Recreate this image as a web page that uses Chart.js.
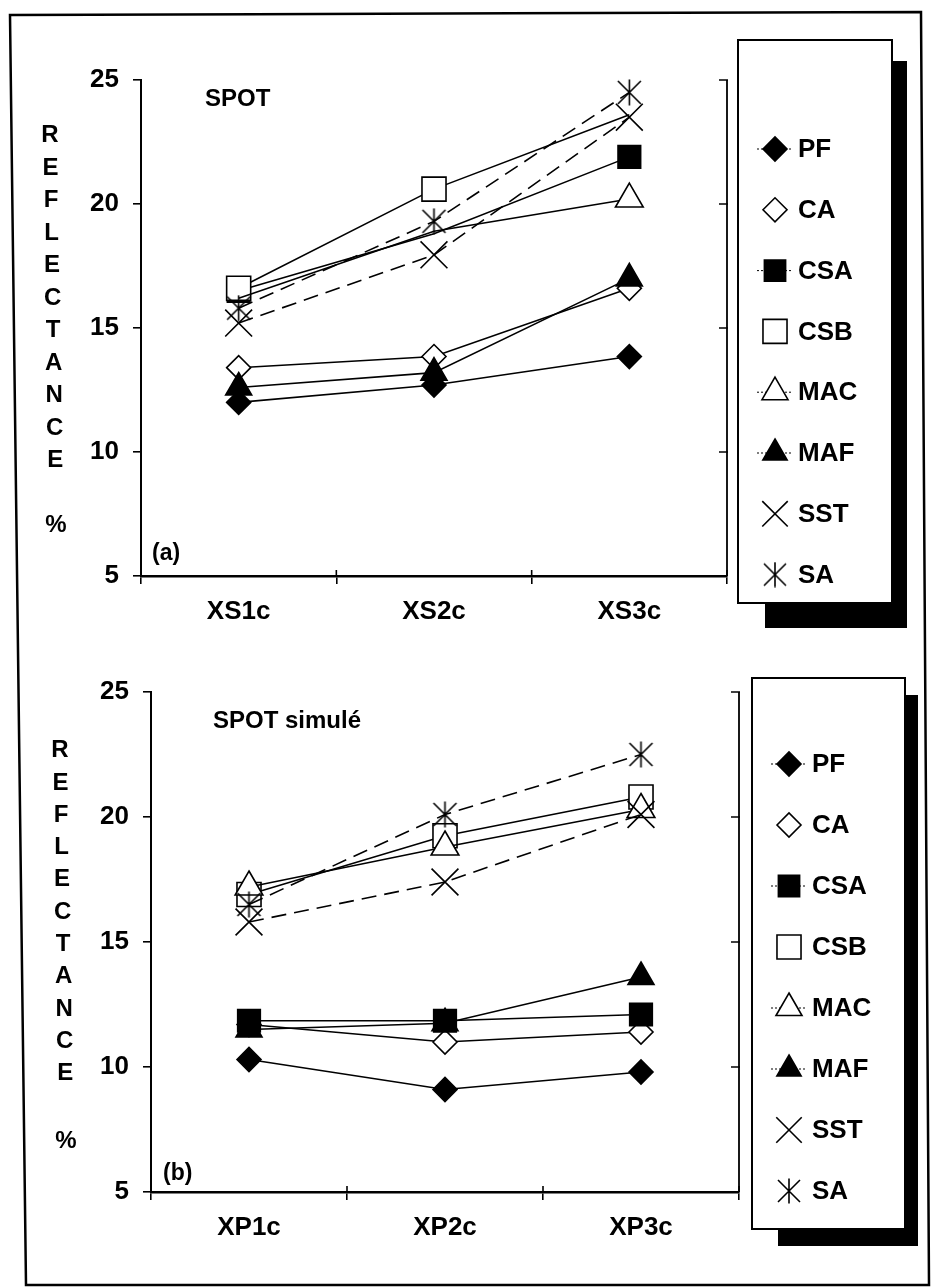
<!DOCTYPE html>
<html><head><meta charset="utf-8">
<script src="https://cdn.jsdelivr.net/npm/chart.js@4/dist/chart.umd.min.js"></script>
<style>
html,body{margin:0;padding:0;background:#fff;}
body{width:931px;height:1287px;overflow:hidden;position:relative;font-family:"Liberation Sans",Arial,sans-serif;font-weight:bold;color:#000;}
canvas{position:absolute;left:0;}
.t{position:absolute;line-height:1;white-space:nowrap;}
.v{position:absolute;line-height:1;width:30px;text-align:center;}
svg{position:absolute;left:0;top:0;}
</style></head>
<body>
<svg width="931" height="1287"><polygon points="10,15 921,12 929,1285 26,1285" fill="none" stroke="#000" stroke-width="2.5"/></svg>
<canvas id="cA" width="931" height="640" style="top:0px"></canvas>
<canvas id="cB" width="931" height="647" style="top:640px"></canvas>
<div id="txt"></div>
<script>
// ---------- data ----------
const seriesLabels = ['PF','CA','CSA','CSB','MAC','MAF','SST','SA'];
const categoriesA = ['XS1c','XS2c','XS3c'];
const categoriesB = ['XP1c','XP2c','XP3c'];
const yTickValues = [5,10,15,20,25];

// panel (a) SPOT
const PF_a  = [12.0, 12.7, 13.85];
const CA_a  = [13.4, 13.85, 16.6];
const CSA_a = [16.5, 18.8, 21.9];
const CSB_a = [16.6, 20.6, 23.6];
const MAC_a = [16.2, 18.9, 20.2];
const MAF_a = [12.6, 13.2, 17.0];
const SST_a = [15.2, 17.95, 23.5];
const SA_a  = [15.8, 19.3, 24.5];

// panel (b) SPOT simulé
const PF_b  = [10.3, 9.1, 9.8];
const CA_b  = [11.7, 11.0, 11.4];
const CSA_b = [11.85, 11.85, 12.1];
const CSB_b = [16.9, 19.25, 20.8];
const MAC_b = [17.2, 18.8, 20.3];
const MAF_b = [11.5, 11.75, 13.6];
const SST_b = [15.8, 17.4, 20.1];
const SA_b  = [16.5, 20.1, 22.5];

// ---------- styles ----------
function asteriskCanvas(size){
  const c=document.createElement('canvas'); c.width=size; c.height=size;
  const g=c.getContext('2d'); g.strokeStyle='#000'; g.lineWidth=1.6; g.lineCap='butt';
  const m=2, s=size;
  g.beginPath();
  g.moveTo(m,m); g.lineTo(s-m,s-m);
  g.moveTo(s-m,m); g.lineTo(m,s-m);
  g.moveTo(s/2,0.5); g.lineTo(s/2,s-0.5);
  g.stroke(); return c;
}
const SA_IMG = asteriskCanvas(27);
const SA_IMG_L = asteriskCanvas(26);
const styles = [
  {ps:'rectRot', r:12, bg:'#000', dash:false, lr:12, stub:true},
  {ps:'rectRot', r:12, bg:'#fff', dash:false, lr:12, stub:false},
  {ps:'rect', r:16, bg:'#000', dash:false, lr:15, stub:true},
  {ps:'rect', r:17, bg:'#fff', dash:false, lr:17, stub:false},
  {ps:'triangle', r:16, bg:'#fff', dash:false, lr:15, stub:true},
  {ps:'triangle', r:15, bg:'#000', dash:false, lr:14, stub:true},
  {ps:'crossRot', r:19, bg:'#fff', dash:true, lr:18, stub:false},
  {ps:SA_IMG, r:13, bg:'#fff', dash:true, lr:13, stub:false, img:SA_IMG_L}
];
// markers that are not visible in the original figure (panel a)
const hiddenA = {CSA:[1], MAC:[0,1], CSB:[2]};
const hiddenB = {};

const FONT = '"Liberation Sans",Arial,sans-serif';

const decor = {
  id:'decor',
  afterDraw(chart, args, o){
    const ctx=chart.ctx, a=chart.chartArea, ys=chart.scales.y;
    ctx.save();
    ctx.strokeStyle='#000'; ctx.lineWidth=1.6; ctx.setLineDash([]);
    const n=chart.data.labels.length;
    for(let i=0;i<=n;i++){
      const x=a.left+(a.right-a.left)*i/n;
      ctx.beginPath(); ctx.moveTo(x,a.bottom-6); ctx.lineTo(x,a.bottom); ctx.stroke();
    }
    ctx.lineWidth=1.8;
    ctx.beginPath(); ctx.moveTo(a.right, ys.getPixelForValue(25)); ctx.lineTo(a.right, ys.getPixelForValue(5)); ctx.stroke();
    ctx.lineWidth=1.5;
    yTickValues.forEach(v=>{ if(v===5) return; const y=ys.getPixelForValue(v);
      ctx.beginPath(); ctx.moveTo(a.right-8,y); ctx.lineTo(a.right+1,y); ctx.stroke(); });
    const b=o.box;
    ctx.fillStyle='#000';
    ctx.fillRect(b.sl, b.st, b.sr-b.sl, b.sb-b.st);
    ctx.fillStyle='#fff';
    ctx.fillRect(b.l, b.t, b.r-b.l, b.b-b.t);
    ctx.lineWidth=2; ctx.strokeStyle='#000';
    ctx.strokeRect(b.l, b.t, b.r-b.l, b.b-b.t);
    chart.data.datasets.forEach((ds,i)=>{
      const st=styles[i];
      const y=o.itemTop+o.itemGap*i, x=o.symX;
      if(st.stub){ ctx.lineWidth=1; ctx.setLineDash([2,2]); ctx.beginPath(); ctx.moveTo(x-18,y); ctx.lineTo(x+18,y); ctx.stroke(); ctx.setLineDash([]); }
      ctx.fillStyle=st.bg; ctx.strokeStyle='#000'; ctx.lineWidth=1.6;
      Chart.helpers.drawPoint(ctx,{pointStyle: st.img||st.ps, radius: st.lr, rotation:0, borderWidth:1.6}, x, y);
      ctx.fillStyle='#000';
      ctx.font='bold 26px '+FONT; ctx.textBaseline='middle'; ctx.textAlign='left';
      ctx.fillText(ds.label, o.textX, y+1);
    });
    ctx.restore();
  }
};

function build(id, cats, vals, geo, legendOpts, hidden){
  const W=931, H=geo.h;
  const datasets = seriesLabels.map((name,i)=>{
    const hid = hidden[name] || [];
    const radii = vals[i].map((_,k)=> hid.includes(k) ? 0 : styles[i].r);
    return {
      label:name, data:vals[i], order: seriesLabels.length - i,
      borderColor:'#000', borderWidth:1.6,
      borderDash: styles[i].dash ? [15,8] : [],
      pointStyle: styles[i].ps, pointRadius: radii, pointHoverRadius: radii,
      pointBackgroundColor: styles[i].bg, pointBorderColor:'#000', pointBorderWidth:1.6,
      fill:false, tension:0, clip:false
    };
  });
  return new Chart(document.getElementById(id), {
    type:'line',
    data:{labels:cats, datasets},
    options:{
      responsive:false, animation:false, events:[],
      layout:{padding:{left:0, right:W-geo.right, top:geo.top, bottom:0}},
      plugins:{legend:{display:false}, tooltip:{enabled:false}, decor:legendOpts},
      scales:{
        x:{type:'category', offset:true,
           grid:{offset:true, drawOnChartArea:false, drawTicks:true, tickLength:8, color:'#000', lineWidth:1.6},
           border:{display:true, color:'#000', width:2.4},
           ticks:{font:{family:FONT, size:26, weight:'bold'}, color:'#000', padding:12, maxRotation:0},
           afterFit:s=>{s.height=H-geo.bottom;}},
        y:{min:5, max:25,
           afterBuildTicks:s=>{s.ticks=yTickValues.map(v=>({value:v}));},
           grid:{drawOnChartArea:false, tickLength:8, color:'#000', lineWidth:1.6},
           border:{display:true, color:'#000', width:2},
           ticks:{font:{family:FONT, size:26, weight:'bold'}, color:'#000', padding:14},
           afterFit:s=>{s.width=geo.left;}}
      }
    },
    plugins:[decor]
  });
}

build('cA', categoriesA, [PF_a,CA_a,CSA_a,CSB_a,MAC_a,MAF_a,SST_a,SA_a],
  {h:640, left:141, right:727, top:80, bottom:576},
  {box:{l:738,t:40,r:892,b:603, sl:765,st:61,sr:907,sb:628}, itemTop:149, itemGap:60.8, symX:775, textX:798},
  hiddenA);
build('cB', categoriesB, [PF_b,CA_b,CSA_b,CSB_b,MAC_b,MAF_b,SST_b,SA_b],
  {h:647, left:151, right:739, top:52, bottom:552},
  {box:{l:752,t:38,r:905,b:589, sl:778,st:55,sr:918,sb:606}, itemTop:124, itemGap:61, symX:789, textX:812},
  hiddenB);

// ---------- texts ----------
const txt=document.getElementById('txt');
function addText(s, left, cy, size, cls){
  const d=document.createElement('div'); d.className=cls||'t'; d.textContent=s;
  d.style.fontSize=size+'px'; d.style.top=(cy-0.49*size)+'px';
  d.style.left=(cls==='v'? left-15 : left)+'px';
  txt.appendChild(d);
}
addText('SPOT', 205, 98, 24);
addText('(a)', 152, 552, 23);
addText('SPOT simulé', 213, 720, 24);
addText('(b)', 163, 1172, 23);
const letters='REFLECTANCE'.split('');
letters.forEach((ch,i)=>{
  const y1=134+32.5*i; addText(ch, 50+(y1-134)*0.016, y1, 24, 'v');
  const y2=749+32.3*i; addText(ch, 60+(y2-749)*0.016, y2, 24, 'v');
});
addText('%', 56, 524, 24, 'v');
addText('%', 66, 1140, 24, 'v');
</script>
</body></html>
